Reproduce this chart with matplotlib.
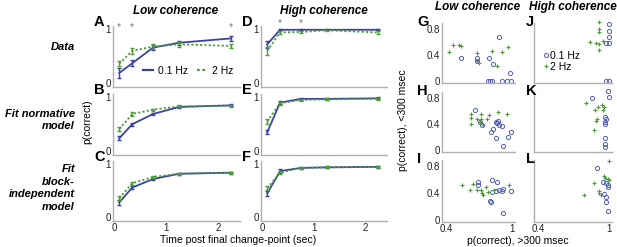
import matplotlib
matplotlib.use("Agg")
import matplotlib.pyplot as plt
from matplotlib.lines import Line2D
import numpy as np

plt.rcParams['font.family'] = ['Liberation Sans', 'DejaVu Sans']

BLUE = '#3a44a0'
SBLUE = '#5560b0'
GREEN = '#4f9a3a'
GREY = '#b0b0b0'

# ---------------- data ----------------
times = [0.1, 0.35, 0.75, 1.25, 2.25]

# Low coherence (A, B, C)
A_slow = [0.19, 0.37, 0.66, 0.75, 0.83]
A_slow_err = [0.09, 0.06, 0.04, 0.04, 0.04]
A_fast = [0.36, 0.60, 0.68, 0.72, 0.69]
A_fast_err = [0.05, 0.05, 0.04, 0.04, 0.04]
B_slow = [0.24, 0.50, 0.69, 0.82, 0.85]
B_fast = [0.41, 0.69, 0.77, 0.83, 0.84]
C_slow = [0.28, 0.56, 0.72, 0.82, 0.84]
C_fast = [0.36, 0.64, 0.76, 0.82, 0.84]
# High coherence (D, E, F)
D_slow = [0.72, 0.99, 0.99, 0.99, 0.99]
D_slow_err = [0.07, 0.01, 0.01, 0.01, 0.01]
D_fast = [0.60, 0.94, 0.95, 0.98, 0.94]
D_fast_err = [0.07, 0.02, 0.02, 0.01, 0.03]
E_slow = [0.35, 0.90, 0.97, 0.97, 0.98]
E_fast = [0.55, 0.89, 0.95, 0.96, 0.97]
F_slow = [0.45, 0.87, 0.93, 0.94, 0.95]
F_fast = [0.55, 0.84, 0.93, 0.94, 0.95]
fit_err = [0.04, 0.03, 0.02, 0.02, 0.02]

star_A = [0.1, 0.35, 2.25]
star_D = [0.35, 0.75]

# Scatter data: (x = p(correct) >300 msec, y = p(correct) <300 msec)
G_slow_x = [0.54, 0.68, 0.68, 0.79, 0.83, 0.88, 0.98, 0.785, 0.80, 0.815, 0.91, 0.95, 0.995]
G_slow_y = [0.36, 0.36, 0.31, 0.36, 0.26, 0.68, 0.13, 0.0, 0.0, 0.0, 0.0, 0.0, 0.0]
G_fast_x = [0.43, 0.46, 0.52, 0.54, 0.68, 0.68, 0.70, 0.82, 0.86, 0.91, 0.96]
G_fast_y = [0.44, 0.55, 0.55, 0.54, 0.43, 0.30, 0.28, 0.46, 0.23, 0.44, 0.52]

H_slow_x = [0.66, 0.71, 0.73, 0.85, 0.86, 0.88, 0.91, 0.81, 0.83, 0.85, 0.92, 0.96, 0.99, 0.87]
H_slow_y = [0.62, 0.43, 0.38, 0.43, 0.42, 0.39, 0.37, 0.27, 0.32, 0.18, 0.06, 0.20, 0.27, 0.44]
H_fast_x = [0.63, 0.63, 0.63, 0.68, 0.72, 0.72, 0.74, 0.77, 0.79, 0.87, 0.95, 0.71]
H_fast_y = [0.56, 0.49, 0.40, 0.48, 0.56, 0.48, 0.39, 0.48, 0.53, 0.58, 0.56, 0.43]

I_slow_x = [0.69, 0.69, 0.82, 0.86, 0.82, 0.85, 0.88, 0.91, 0.92, 0.99, 0.81, 0.92, 0.80]
I_slow_y = [0.57, 0.52, 0.59, 0.56, 0.42, 0.43, 0.44, 0.43, 0.46, 0.43, 0.27, 0.10, 0.28]
I_fast_x = [0.55, 0.62, 0.65, 0.68, 0.72, 0.73, 0.74, 0.76, 0.78, 0.84, 0.97]
I_fast_y = [0.52, 0.44, 0.54, 0.44, 0.44, 0.40, 0.37, 0.49, 0.41, 0.45, 0.52]

J_slow_x = [1.0, 1.0, 1.0, 0.98, 1.0, 0.98, 1.0]
J_slow_y = [0.88, 0.77, 0.68, 0.58, 0.58, 0.0, 0.0]
J_fast_x = [0.92, 0.92, 0.92, 0.84, 0.89, 0.92, 0.92, 0.95]
J_fast_y = [0.91, 0.80, 0.75, 0.60, 0.59, 0.57, 0.47, 0.62]

K_slow_x = [0.99, 1.0, 0.86, 0.97, 0.98, 0.97, 0.97, 0.97, 0.97, 0.97]
K_slow_y = [0.90, 0.81, 0.80, 0.50, 0.47, 0.43, 0.40, 0.19, 0.09, 0.05]
K_fast_x = [0.81, 0.91, 0.94, 0.96, 0.95, 0.88, 0.90, 0.89, 0.87]
K_fast_y = [0.72, 0.66, 0.69, 0.66, 0.61, 0.61, 0.47, 0.45, 0.31]

L_slow_x = [0.90, 0.95, 0.99, 0.99, 0.98, 0.96, 0.98, 0.98, 0.99]
L_slow_y = [0.77, 0.57, 0.52, 0.49, 0.55, 0.38, 0.34, 0.27, 0.13]
L_fast_x = [1.0, 0.96, 0.97, 0.99, 1.0, 0.87, 0.92, 0.92, 0.93, 0.79]
L_fast_y = [0.87, 0.66, 0.63, 0.61, 0.60, 0.55, 0.43, 0.40, 0.37, 0.37]

# ---------------- figure ----------------
W, H = 617, 247
fig = plt.figure(figsize=(W / 100, H / 100), dpi=100)


def px_axes(left, top, right, bottom):
    return fig.add_axes([left / W, 1 - bottom / H, (right - left) / W, (bottom - top) / H])


def style(ax):
    for s in ['top', 'right']:
        ax.spines[s].set_visible(False)
    for s in ['left', 'bottom']:
        ax.spines[s].set_color(GREY)
        ax.spines[s].set_linewidth(1.0)
    ax.tick_params(length=0, labelsize=7, pad=1.5, colors='#222222')


rows = [(26, 87), (94, 155), (161, 221)]
cols = [(113, 240), (261, 387)]

line_sets = [
    [(A_slow, A_slow_err, A_fast, A_fast_err), (B_slow, fit_err, B_fast, fit_err), (C_slow, fit_err, C_fast, fit_err)],
    [(D_slow, D_slow_err, D_fast, D_fast_err), (E_slow, fit_err, E_fast, fit_err), (F_slow, fit_err, F_fast, fit_err)],
]
letters = [['A', 'B', 'C'], ['D', 'E', 'F']]

line_axes = {}
for ci, (l, r) in enumerate(cols):
    for ri, (t, b) in enumerate(rows):
        ax = px_axes(l, t, r, b)
        style(ax)
        s, se, f, fe = line_sets[ci][ri]
        ax.errorbar(times, f, yerr=fe, color=GREEN, lw=1.3, ls=(0, (1.2, 1.2)), capsize=1.5,
                    elinewidth=1.0, capthick=1.0, label='2 Hz', zorder=3)
        ax.errorbar(times, s, yerr=se, color=BLUE, lw=1.3, capsize=1.5,
                    elinewidth=1.0, capthick=1.0, label='0.1 Hz', zorder=2)
        ax.set_xlim(-0.02, 2.42)
        ax.set_ylim(-0.07, 1.06)
        ax.set_yticks([0, 1])
        ax.set_yticklabels(['0', '1'])
        if ri == 2:
            ax.set_xticks([0, 1, 2])
        else:
            ax.set_xticks([])
        fig.text((l - 19) / W, 1 - (t - 4) / H, letters[ci][ri], fontsize=10.5, fontweight='bold',
                 ha='left', va='center')
        line_axes[(ci, ri)] = ax

axA = line_axes[(0, 0)]
for x in star_A:
    axA.text(x, 1.04, '*', color='#777777', fontsize=7.5, ha='center', va='center', clip_on=False)
axD = line_axes[(1, 0)]
for x in star_D:
    axD.text(x, 1.12, '*', color='#777777', fontsize=7.5, ha='center', va='center', clip_on=False)

hdl = [Line2D([], [], color=BLUE, lw=1.6), Line2D([], [], color=GREEN, lw=1.6, ls=(0, (1.2, 1.2)))]
axA.legend(hdl, ['0.1 Hz', '2 Hz'], ncol=2, frameon=False, fontsize=7.5, handlelength=1.0,
           handletextpad=0.4, columnspacing=0.9, loc='center', bbox_to_anchor=(0.59, 0.26),
           borderpad=0, borderaxespad=0)

# titles / labels for line panels
TK = dict(fontsize=8.5, fontweight='bold', fontstyle='italic', va='center')
fig.text(176 / W, 1 - 11 / H, 'Low coherence', ha='center', **TK)
fig.text(324 / W, 1 - 11 / H, 'High coherence', ha='center', **TK)
RK = dict(fontsize=8, fontweight='bold', fontstyle='italic', va='center', ha='right',
          multialignment='right', linespacing=1.3)
fig.text(75 / W, 1 - 47 / H, 'Data', **RK)
fig.text(75 / W, 1 - 120 / H, 'Fit normative\nmodel', **RK)
fig.text(75 / W, 1 - 188 / H, 'Fit\nblock-\nindependent\nmodel', **RK)
fig.text(87 / W, 1 - 122 / H, 'p(correct)', fontsize=7.5, rotation=90, ha='center', va='center')
fig.text(238 / W, 1 - 240 / H, 'Time post final change-point (sec)', fontsize=7.5, ha='center', va='center')

# ---------------- scatter panels ----------------
srows = [(23, 83), (92, 152), (160, 222)]
scols = [(442, 515), (534, 612)]
sc_sets = [
    [(G_slow_x, G_slow_y, G_fast_x, G_fast_y), (H_slow_x, H_slow_y, H_fast_x, H_fast_y),
     (I_slow_x, I_slow_y, I_fast_x, I_fast_y)],
    [(J_slow_x, J_slow_y, J_fast_x, J_fast_y), (K_slow_x, K_slow_y, K_fast_x, K_fast_y),
     (L_slow_x, L_slow_y, L_fast_x, L_fast_y)],
]
sletters = [['G', 'H', 'I'], ['J', 'K', 'L']]
sc_axes = {}
for ci, (l, r) in enumerate(scols):
    for ri, (t, b) in enumerate(srows):
        ax = px_axes(l, t, r, b)
        style(ax)
        sx, sy, fx, fy = sc_sets[ci][ri]
        ax.plot(sx, sy, 'o', mfc='none', mec=SBLUE, ms=3.0, mew=0.7, ls='none', clip_on=False,
                label='0.1 Hz')
        ax.plot(fx, fy, '+', color=GREEN, ms=3.0, mew=0.8, ls='none', clip_on=False, label='2 Hz')
        ax.set_xlim(0.364, 1.027)
        ax.set_ylim(-0.03, 0.89)
        if ci == 0:
            ax.set_yticks([0, 0.4, 0.8])
            ax.set_yticklabels(['0', '0.4', '0.8'])
        else:
            ax.set_yticks([])
        if ri == 2:
            ax.set_xticks([0.4, 1])
            ax.set_xticklabels(['0.4', '1'])
        else:
            ax.set_xticks([])
        lx = l - 25 if ci == 0 else l - 8
        fig.text(lx / W, 1 - (t - 1) / H, sletters[ci][ri], fontsize=10.5, fontweight='bold',
                 ha='left', va='center')
        sc_axes[(ci, ri)] = ax

axJ = sc_axes[(1, 0)]
axJ.legend(fontsize=7.5, frameon=False, loc='center left', bbox_to_anchor=(0.12, 0.36),
           handlelength=0.5, handletextpad=0.15, labelspacing=0.1, borderpad=0, borderaxespad=0)

fig.text(478 / W, 1 - 7 / H, 'Low coherence', ha='center', **TK)
fig.text(573 / W, 1 - 7 / H, 'High coherence', ha='center', **TK)
fig.text(403 / W, 1 - 120 / H, 'p(correct), <300 msec', fontsize=7.5, rotation=90, ha='center', va='center')
fig.text(518 / W, 1 - 241 / H, 'p(correct), >300 msec', fontsize=7.5, ha='center', va='center')

fig.savefig('out.png', dpi=100)
